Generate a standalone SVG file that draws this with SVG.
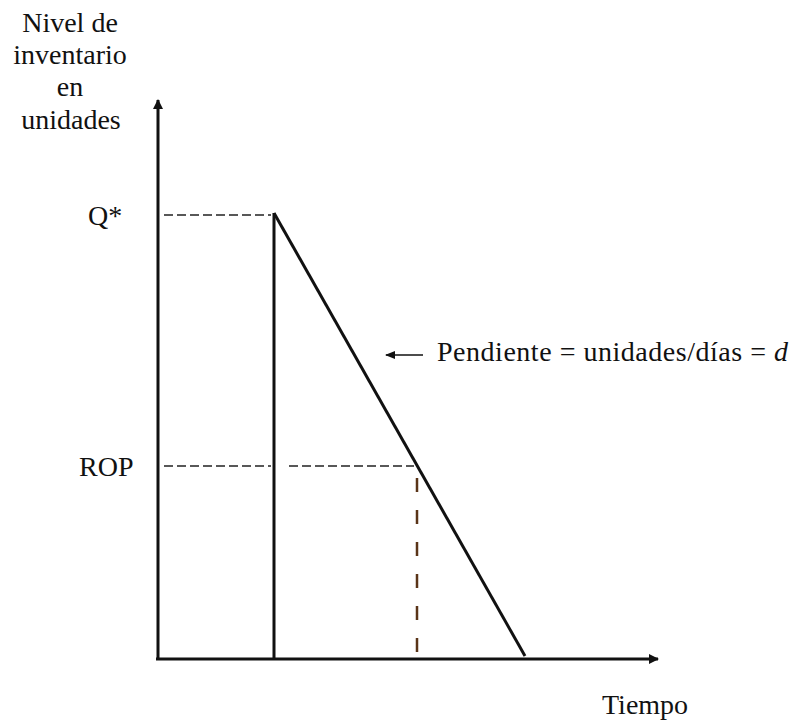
<svg xmlns="http://www.w3.org/2000/svg" width="795" height="723" viewBox="0 0 795 723">
<style>
text{font-family:"Liberation Serif","Times New Roman",serif;font-size:28px;fill:#111}
.ax{stroke:#111;stroke-width:3;fill:none}
.ln{stroke:#111;stroke-width:3;fill:none}
.dash{stroke:#222;stroke-width:1.5;stroke-dasharray:9,4;fill:none}
.vdash{stroke:#5a3418;stroke-width:2.5;stroke-dasharray:14,18;fill:none}
</style>
<defs>
<marker id="ah" markerWidth="10" markerHeight="10" refX="9" refY="5" orient="auto" markerUnits="userSpaceOnUse">
<path d="M0,0 L10,5 L0,10 Z" fill="#111"/>
</marker>
<marker id="ahs" markerWidth="10" markerHeight="8" refX="9" refY="4" orient="auto" markerUnits="userSpaceOnUse">
<path d="M0,0 L10,4 L0,8 Z" fill="#111"/>
</marker>
</defs>
<g id="axes">
<line class="ax" x1="158" y1="660" x2="158" y2="100" marker-end="url(#ah)"/>
<line class="ax" x1="156" y1="659" x2="658" y2="659" marker-end="url(#ah)"/>
</g>
<g id="connectors">
<line class="ln" x1="274" y1="213" x2="274" y2="659"/>
<line class="ln" x1="274" y1="213" x2="525" y2="656"/>
<line class="dash" x1="164" y1="215" x2="271" y2="215"/>
<line class="dash" x1="164" y1="466" x2="271" y2="466"/>
<line class="dash" x1="289" y1="466" x2="414" y2="466"/>
<line class="vdash" x1="417" y1="478" x2="417" y2="652"/>
<line stroke="#111" stroke-width="1.5" x1="423" y1="355" x2="386" y2="355" marker-end="url(#ahs)"/>
</g>
<g id="ylabel">
<text x="70" y="32" text-anchor="middle">Nivel de</text>
<text x="70" y="64" text-anchor="middle">inventario</text>
<text x="70" y="96" text-anchor="middle">en</text>
<text x="71" y="129" text-anchor="middle">unidades</text>
</g>
<g id="q"><text x="88" y="225">Q*</text></g>
<g id="rop"><text x="79" y="476">ROP</text></g>
<g id="slope"><text x="437" y="361" textLength="351">Pendiente = unidades/días = <tspan font-style="italic">d</tspan></text></g>
<g id="xlabel"><text x="602" y="714">Tiempo</text></g>
</svg>
